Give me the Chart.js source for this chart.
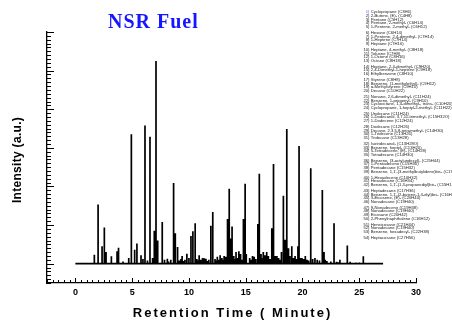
<!DOCTYPE html>
<html>
<head>
<meta charset="utf-8">
<script src="https://cdn.jsdelivr.net/npm/chart.js@4.4.1/dist/chart.umd.min.js"></script>
<style>
html, body { margin: 0; padding: 0; background: #fff; }
#wrap { width: 452px; height: 320px; }
</style>
</head>
<body>
<div id="wrap"><canvas id="gc" width="452" height="320"></canvas></div>
<script>
// ================= DATA =================
const chartTitle = "NSR Fuel";
const xTitle = "Retention Time ( Minute)";
const yTitle = "Intensity (a.u.)";
const xTickLabels = [0, 5, 10, 15, 20, 25, 30];

// trace runs along the baseline between these times
const traceStart = 0;
const traceEnd = 27.1;

// main peaks (minutes, intensity)
const peakTimes = [1.67, 2.0, 2.35, 2.55, 2.7, 3.17, 3.67, 3.8, 4.2, 4.7, 4.93, 5.22, 5.42, 5.78, 5.95,
    6.13, 6.35, 6.57, 6.8, 6.95, 7.1, 7.25, 7.65, 7.85, 8.1, 8.65, 8.8, 9.0, 9.4, 9.82,
    10.18, 10.35, 10.55, 10.9, 11.2, 11.5, 11.93, 12.1, 12.5, 12.75, 13.1, 13.4, 13.55, 13.7, 13.8,
    14.15, 14.4, 14.55, 14.8, 14.95, 15.6, 16.07, 16.2, 16.55, 16.85, 17.3, 17.45, 17.75, 18.15, 18.32,
    18.47, 18.62, 18.77, 19.06, 19.35, 19.6, 19.7, 19.95, 20.25, 20.73, 21.1, 21.75, 21.9, 22.78, 23.3,
    23.95, 25.36];
const peakHeights = [0.23, 1.53, 0.45, 0.94, 0.3, 0.19, 0.32, 0.41, 0.06, 0.15, 3.35, 0.36, 0.52, 0.22, 0.12,
    3.58, 0.08, 3.29, 0.15, 0.85, 5.25, 0.6, 1.08, 0.1, 0.13, 2.09, 0.79, 0.43, 0.2, 0.26,
    0.72, 0.84, 1.05, 0.22, 0.15, 0.13, 0.98, 1.34, 0.18, 0.22, 0.2, 1.16, 1.94, 0.65, 0.96,
    0.3, 0.32, 0.25, 1.16, 2.07, 0.2, 1.03, 2.33, 0.3, 0.3, 0.92, 2.58, 0.2, 0.3, 1.76,
    0.62, 3.49, 0.4, 0.45, 0.2, 0.45, 3.05, 0.15, 0.2, 2.47, 0.15, 1.91, 0.3, 1.05, 0.1,
    0.47, 0.19];

// small baseline bumps
const noiseTimes = [8.2, 8.4, 9.15, 9.3, 9.55, 9.65, 10.0, 10.7, 10.8, 11.05, 11.35, 11.6, 11.75, 12.3, 12.4,
    12.6, 12.9, 13.0, 13.25, 13.95, 14.05, 14.3, 14.65, 15.05, 15.35, 15.5, 15.75, 15.9, 16.35, 16.45,
    16.7, 17.0, 17.15, 17.6, 17.9, 18.0, 18.9, 19.2, 19.45, 19.85, 20.1, 20.4, 20.55, 20.9, 21.3,
    21.5, 22.0, 22.15, 22.5, 23.0, 23.15, 24.2, 24.7, 25.0, 25.7, 26.5];
const noiseHeights = [0.06, 0.1, 0.08, 0.12, 0.07, 0.1, 0.15, 0.12, 0.08, 0.1, 0.14, 0.07, 0.1, 0.12, 0.08,
    0.1, 0.15, 0.1, 0.18, 0.2, 0.12, 0.15, 0.1, 0.25, 0.15, 0.1, 0.18, 0.12, 0.25, 0.15,
    0.22, 0.2, 0.12, 0.2, 0.15, 0.1, 0.2, 0.15, 0.12, 0.15, 0.12, 0.1, 0.08, 0.12, 0.1,
    0.08, 0.1, 0.07, 0.06, 0.05, 0.04, 0.05, 0.03, 0.03, 0.02, 0.02];

// compound list
const compounds = [
    "Cyclopropane (C3H6)", "2-Butene, (E)- (C4H8)", "Pentane (C5H12)", "Pentane, 2-methyl- (C6H14)",
    "1-Pentene, 2-methyl- (C6H12)", "Hexane (C6H14)", "1-Pentene, 2,4-dimethyl- (C7H14)", "1-Heptene (C7H14)",
    "Heptane (C7H16)", "Heptane, 4-methyl- (C8H18)", "Toluene (C7H8)", "1-Octene (C8H16)", "Octane (C8H18)",
    "Heptane, 2,4-dimethyl- (C9H20)", "2,4-Dimethyl-1-heptene (C9H18)", "Ethylbenzene (C8H10)",
    "Styrene (C8H8)", "Benzene, (1-methylethyl)- (C9H12)", "\u03B1-Methylstyrene (C9H10)", "Decane (C10H22)",
    "Nonane, 2,6-dimethyl- (C11H24)", "Benzene, 1-propenyl- (C9H10)", "Cyclooctane, 1,4-dimethyl-, trans- (C10H20)",
    "Cyclopropane, 1-heptyl-2-methyl- (C11H22)", "Undecane (C11H24)", "1-Dodecanol, 3,7,11-trimethyl- (C15H32O)",
    "1-Dodecene (C12H24)", "Dodecane (C12H26)", "Decane, 2,3,5,8-tetramethyl- (C14H30)", "1-Tridecene (C13H26)",
    "Tridecane (C13H28)", "Isotridecanol- (C13H28O)", "Benzene, heptyl- (C13H20)", "5-Tetradecene, (E)- (C14H28)",
    "Tetradecane (C14H30)", "Benzene, (3-octylundecyl)- (C25H44)", "1-Pentadecene (C15H30)", "Pentadecane (C15H32)",
    "Benzene, 1,1'-(3-methylbutylidene)bis- (C17H20)", "1-Hexadecene (C16H32)", "Hexadecane (C16H34)",
    "Benzene, 1,1'-(1,3-propanediyl)bis- (C15H16)", "Heptadecane (C17H36)",
    "Benzene, 1,1'-(2-butene-1,4-diyl)bis- (C16H16)", "3-Eicosene, (E)- (C20H40)", "Nonadecane (C19H40)",
    "9-Nonadecene (C19H38)", "Nonadecane (C19H40)", "Eicosane (C20H42)", "2-Phenylnaphthalene (C16H12)",
    "Heneicosane (C21H44)", "Nonadecane (C19H40)", "Benzene, hexadecyl- (C22H38)", "Heptacosane (C27H56)"
];
const compoundGroups = [5, 4, 4, 3, 4, 4, 3, 4, 4, 4, 3, 4, 4, 3, 1];

// ================= TRACE =================
function buildTrace() {
    const all = peakTimes.map((t, i) => [t, peakHeights[i]])
        .concat(noiseTimes.map((t, i) => [t, noiseHeights[i]]))
        .sort((a, b) => a[0] - b[0]);
    const pts = [{ x: traceStart, y: 0 }];
    all.forEach(([t, h]) => {
        pts.push({ x: t, y: 0 }, { x: t, y: h }, { x: t, y: 0 });
    });
    pts.push({ x: traceEnd, y: 0 });
    return pts;
}

// ================= DECORATIONS =================
const decorPlugin = {
    id: "decor",
    afterDraw(chart) {
        const ctx = chart.ctx;
        const xs = chart.scales.x, ys = chart.scales.y;
        const ax = chart.chartArea.left, ay = chart.chartArea.bottom;

        ctx.save();
        ctx.strokeStyle = "#000";
        ctx.lineWidth = 1;
        ctx.beginPath();
        // x ticks every half minute, pointing up
        for (let i = -5; i <= 60; i++) {
            const px = Math.round(xs.getPixelForValue(i / 2)) + 0.5;
            const len = (i % 10 === 0 && i >= 0) ? 5 : 3;
            ctx.moveTo(px, ay);
            ctx.lineTo(px, ay - len);
        }
        // y ticks every 0.1, pointing right
        for (let i = -5; i <= 60; i++) {
            const py = Math.round(ys.getPixelForValue(i / 10)) + 0.5;
            const len = (i % 10 === 0) ? 7 : 4;
            ctx.moveTo(ax, py);
            ctx.lineTo(ax + len, py);
        }
        ctx.stroke();

        // title
        ctx.fillStyle = "#1515ff";
        ctx.font = "bold 20px 'Liberation Serif', 'Times New Roman', serif";
        ctx.letterSpacing = "1px";
        ctx.textAlign = "left";
        ctx.textBaseline = "alphabetic";
        ctx.fillText(chartTitle, 108, 28);

        // x title
        ctx.fillStyle = "#000";
        ctx.font = "bold 13px 'Liberation Sans', Arial, sans-serif";
        ctx.letterSpacing = "2px";
        ctx.textAlign = "center";
        ctx.fillText(xTitle, (chart.chartArea.left + chart.chartArea.right) / 2 + 1, 317);

        // y title
        ctx.font = "bold 12px 'Liberation Sans', Arial, sans-serif";
        ctx.letterSpacing = "0.3px";
        ctx.translate(21, 160);
        ctx.rotate(-Math.PI / 2);
        ctx.fillText(yTitle, 0, 0);
        ctx.restore();

        // compound list
        ctx.save();
        ctx.font = "4.2px 'Liberation Sans', Arial, sans-serif";
        ctx.textBaseline = "middle";
        let y = 12.3, n = 0;
        compoundGroups.forEach((g, gi) => {
            for (let k = 0; k < g; k++) {
                ctx.textAlign = "right";
                ctx.fillStyle = n === 0 ? "#5a5af0" : "#222";
                ctx.fillText((n + 1) + ")", 369.5, y);
                ctx.textAlign = "left";
                ctx.fillStyle = "#222";
                ctx.fillText(compounds[n], 370.8, y);
                n++;
                if (k < g - 1) y += 3.67;
            }
            y += 5.88;
        });
        ctx.restore();
    }
};

// ================= CHART =================
new Chart(document.getElementById("gc"), {
    type: "line",
    data: {
        datasets: [{
            data: buildTrace(),
            borderColor: "#000",
            borderWidth: 1.7,
            pointRadius: 0,
            tension: 0,
            borderJoinStyle: "bevel",
            fill: false
        }]
    },
    options: {
        responsive: false,
        devicePixelRatio: 1,
        animation: false,
        layout: { padding: { left: 0, top: 32, right: 36, bottom: 0 } },
        plugins: { legend: { display: false }, tooltip: { enabled: false } },
        scales: {
            x: {
                type: "linear",
                min: -2.5,
                max: 30,
                grid: { display: false, drawTicks: false },
                border: { display: true, color: "#000", width: 1.3 },
                afterBuildTicks: s => { s.ticks = xTickLabels.map(v => ({ value: v })); },
                afterFit: s => { s.height = 37; },
                ticks: {
                    autoSkip: false,
                    maxRotation: 0,
                    padding: 4,
                    color: "#000",
                    font: { family: "'Liberation Sans', Arial, sans-serif", size: 9, weight: "bold" }
                }
            },
            y: {
                min: -0.5,
                max: 6,
                grid: { display: false, drawTicks: false },
                border: { display: true, color: "#000", width: 1.3 },
                ticks: { display: false },
                afterFit: s => { s.width = 47; }
            }
        }
    },
    plugins: [decorPlugin]
});
</script>
</body>
</html>
